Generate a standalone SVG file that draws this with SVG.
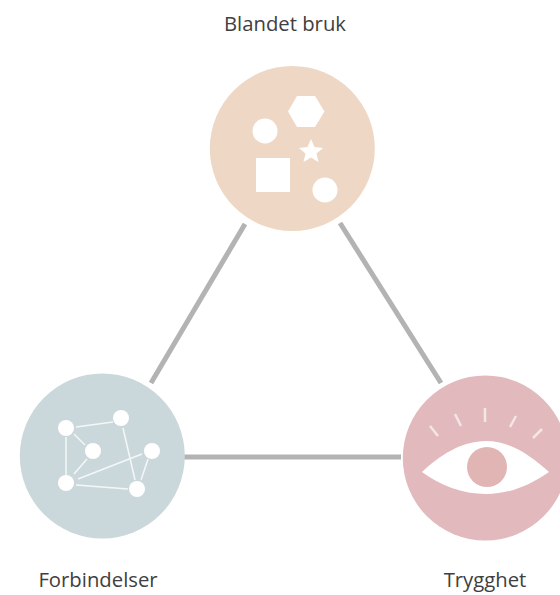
<svg xmlns="http://www.w3.org/2000/svg" width="560" height="595" viewBox="0 0 560 595">
<style>
text{font-family:"Open Sans","Noto Sans",sans-serif;font-size:20.300px;fill:#404040;text-anchor:middle}
.c{stroke:#b3b3b3;stroke-width:5;fill:none}
.w{fill:#fff}
.l{stroke:#f4f7f7;stroke-width:1.500;fill:none}
.p{stroke:#f3e6e6;stroke-width:2.500;fill:none}
</style>
<rect width="560" height="595" fill="#fff"/>
<g id="connectors">
<line class="c" x1="245" y1="224" x2="151" y2="383"/>
<line class="c" x1="340" y1="223" x2="441" y2="383"/>
<line class="c" x1="184" y1="457" x2="401" y2="457"/>
</g>
<g id="blandet-bruk">
<circle cx="292.300" cy="148.500" r="82.500" fill="#eed8c5"/>
<polygon class="w" points="288,111.500 297,96 315,96 324.500,111.500 315,127 297,127"/>
<circle class="w" cx="265" cy="131" r="12.500"/>
<polygon class="w" points="311,139 314.500,147 323,148 316.500,153.500 318.500,162 311,157.500 303.500,162 305.500,153.500 299,148 307.500,147"/>
<rect class="w" x="256" y="158" width="34" height="34"/>
<circle class="w" cx="325" cy="190" r="12.500"/>
<text x="285" y="31">Blandet bruk</text>
</g>
<g id="forbindelser">
<circle cx="102.300" cy="456" r="82.500" fill="#cbd8db"/>
<g class="l">
<line x1="76" y1="427" x2="113" y2="422"/>
<line x1="66" y1="437" x2="66" y2="475"/>
<line x1="74" y1="434" x2="85" y2="445"/>
<line x1="87" y1="459" x2="74" y2="474"/>
<line x1="123" y1="428" x2="135" y2="480"/>
<line x1="142" y1="454" x2="78" y2="479"/>
<line x1="148" y1="459" x2="141" y2="480"/>
<line x1="76" y1="485" x2="128" y2="489"/>
</g>
<circle class="w" cx="66" cy="428" r="8"/>
<circle class="w" cx="121" cy="418" r="8"/>
<circle class="w" cx="93" cy="451" r="8"/>
<circle class="w" cx="152" cy="451" r="8"/>
<circle class="w" cx="66" cy="483" r="8"/>
<circle class="w" cx="137" cy="489" r="8"/>
<text x="98" y="587">Forbindelser</text>
</g>
<g id="trygghet">
<circle cx="485.300" cy="458" r="82.500" fill="#e2b9bd"/>
<path class="w" d="M422 472 C440 455 462 441 486 441 C510 441 530 455 549 472 C530 485 510 494 486 494 C462 494 440 485 422 472Z"/>
<circle cx="487" cy="467" r="20" fill="#e2b5b5"/>
<g class="p">
<line x1="430" y1="426" x2="438" y2="436"/>
<line x1="455" y1="414" x2="461" y2="426"/>
<line x1="485" y1="408" x2="485" y2="422"/>
<line x1="516" y1="416" x2="510" y2="427"/>
<line x1="542" y1="429" x2="533" y2="438"/>
</g>
<text x="485" y="587">Trygghet</text>
</g>
</svg>
